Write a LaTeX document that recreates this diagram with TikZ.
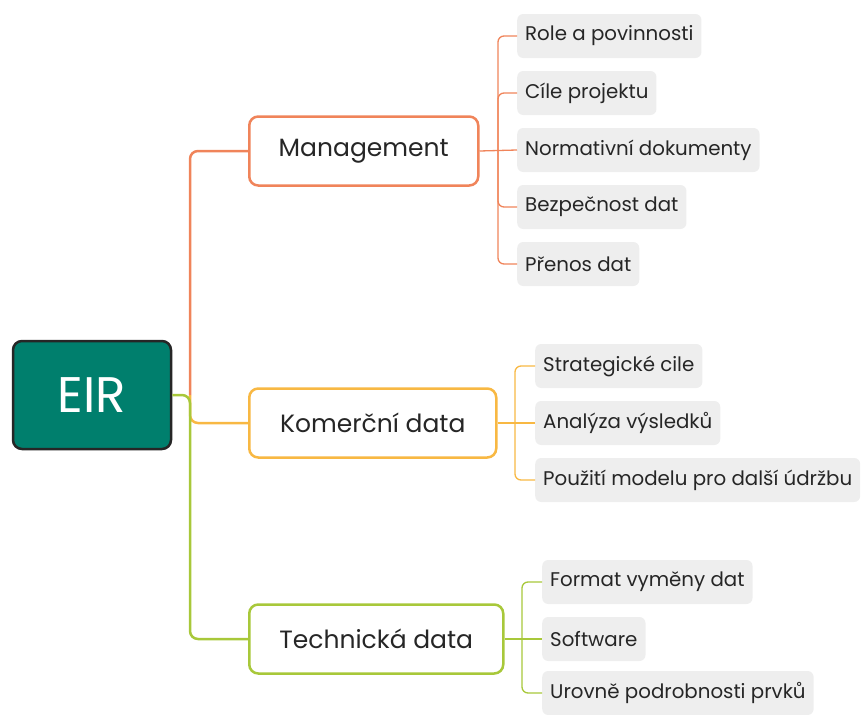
\documentclass[tikz,border=0pt]{standalone}
\usepackage{fontspec}
\setmainfont{Poppins}
\definecolor{teal1}{HTML}{007F6D}
\definecolor{orng}{HTML}{F0845A}
\definecolor{yell}{HTML}{F8B843}
\definecolor{grn}{HTML}{A8C83A}
\definecolor{chip}{HTML}{EEEEEE}
\definecolor{txt}{HTML}{262626}
\begin{document}
\begin{tikzpicture}[x=1pt,y=-1pt,
  rootbox/.style={draw=black!85, line width=2.5pt, fill=teal1, rounded corners=9pt,
    minimum width=158pt, minimum height=108pt, text=white, font=\fontsize{50}{56}\selectfont, inner sep=0pt},
  mainbox/.style={draw=#1, line width=2.5pt, fill=white, rounded corners=9pt,
    minimum height=69pt, text=txt, font=\fontsize{25}{30}\selectfont, inner sep=0pt, anchor=west},
  chipbox/.style={fill=chip, rounded corners=6pt, minimum height=44pt, inner xsep=8pt, inner ysep=0pt,
    text=txt, font=\fontsize{19.8}{24}\selectfont, anchor=west},
  mline/.style={draw=#1, line width=2.5pt, rounded corners=8pt},
  cline/.style={draw=#1, line width=1.3pt, rounded corners=6pt}]
\useasboundingbox (0,0) rectangle (863,715);

% root
\node[rootbox] (eir) at (92,395) {EIR};

% main nodes
\node[mainbox=orng, minimum width=229pt] (mg) at (248,151) {Management};
\node[mainbox=yell, minimum width=247pt] (kd) at (248,423) {Komerční data};
\node[mainbox=grn, minimum width=254pt] (td) at (248,639) {Technická data};

\coordinate (hub) at (190,395);

% main connectors
\draw[mline=orng] (hub) |- (mg.west);
\draw[mline=yell] (hub) |- (kd.west);
\draw[mline=grn] (eir.east) -- (hub) |- (td.west);

% Management children
\node[chipbox] (m1) at (517,36) {Role a povinnosti};
\node[chipbox] (m2) at (517,93) {Cíle projektu};
\node[chipbox] (m3) at (517,150) {Normativní dokumenty};
\node[chipbox] (m4) at (517,207) {Bezpečnost dat};
\node[chipbox] (m5) at (517,264) {Přenos dat};
\coordinate (mh) at (498,151);
\draw[cline=orng] (mg.east) -- (m3.west);
\foreach \c in {m1,m2,m4,m5} \draw[cline=orng] (mh) |- (\c.west);

% Komercni children
\node[chipbox] (k1) at (535,366) {Strategické cile};
\node[chipbox] (k2) at (535,423) {Analýza výsledků};
\node[chipbox] (k3) at (535,480) {Použití modelu pro další údržbu};
\coordinate (kh) at (515,423);
\draw[cline=yell] (kd.east) -- (k2.west);
\foreach \c in {k1,k3} \draw[cline=yell] (kh) |- (\c.west);

% Technicka children
\node[chipbox] (t1) at (542,582) {Format vyměny dat};
\node[chipbox] (t2) at (542,639) {Software};
\node[chipbox] (t3) at (542,693) {Urovně podrobnosti prvků};
\coordinate (th) at (522,639);
\draw[cline=grn] (td.east) -- (t2.west);
\foreach \c in {t1,t3} \draw[cline=grn] (th) |- (\c.west);
\end{tikzpicture}
\end{document}
